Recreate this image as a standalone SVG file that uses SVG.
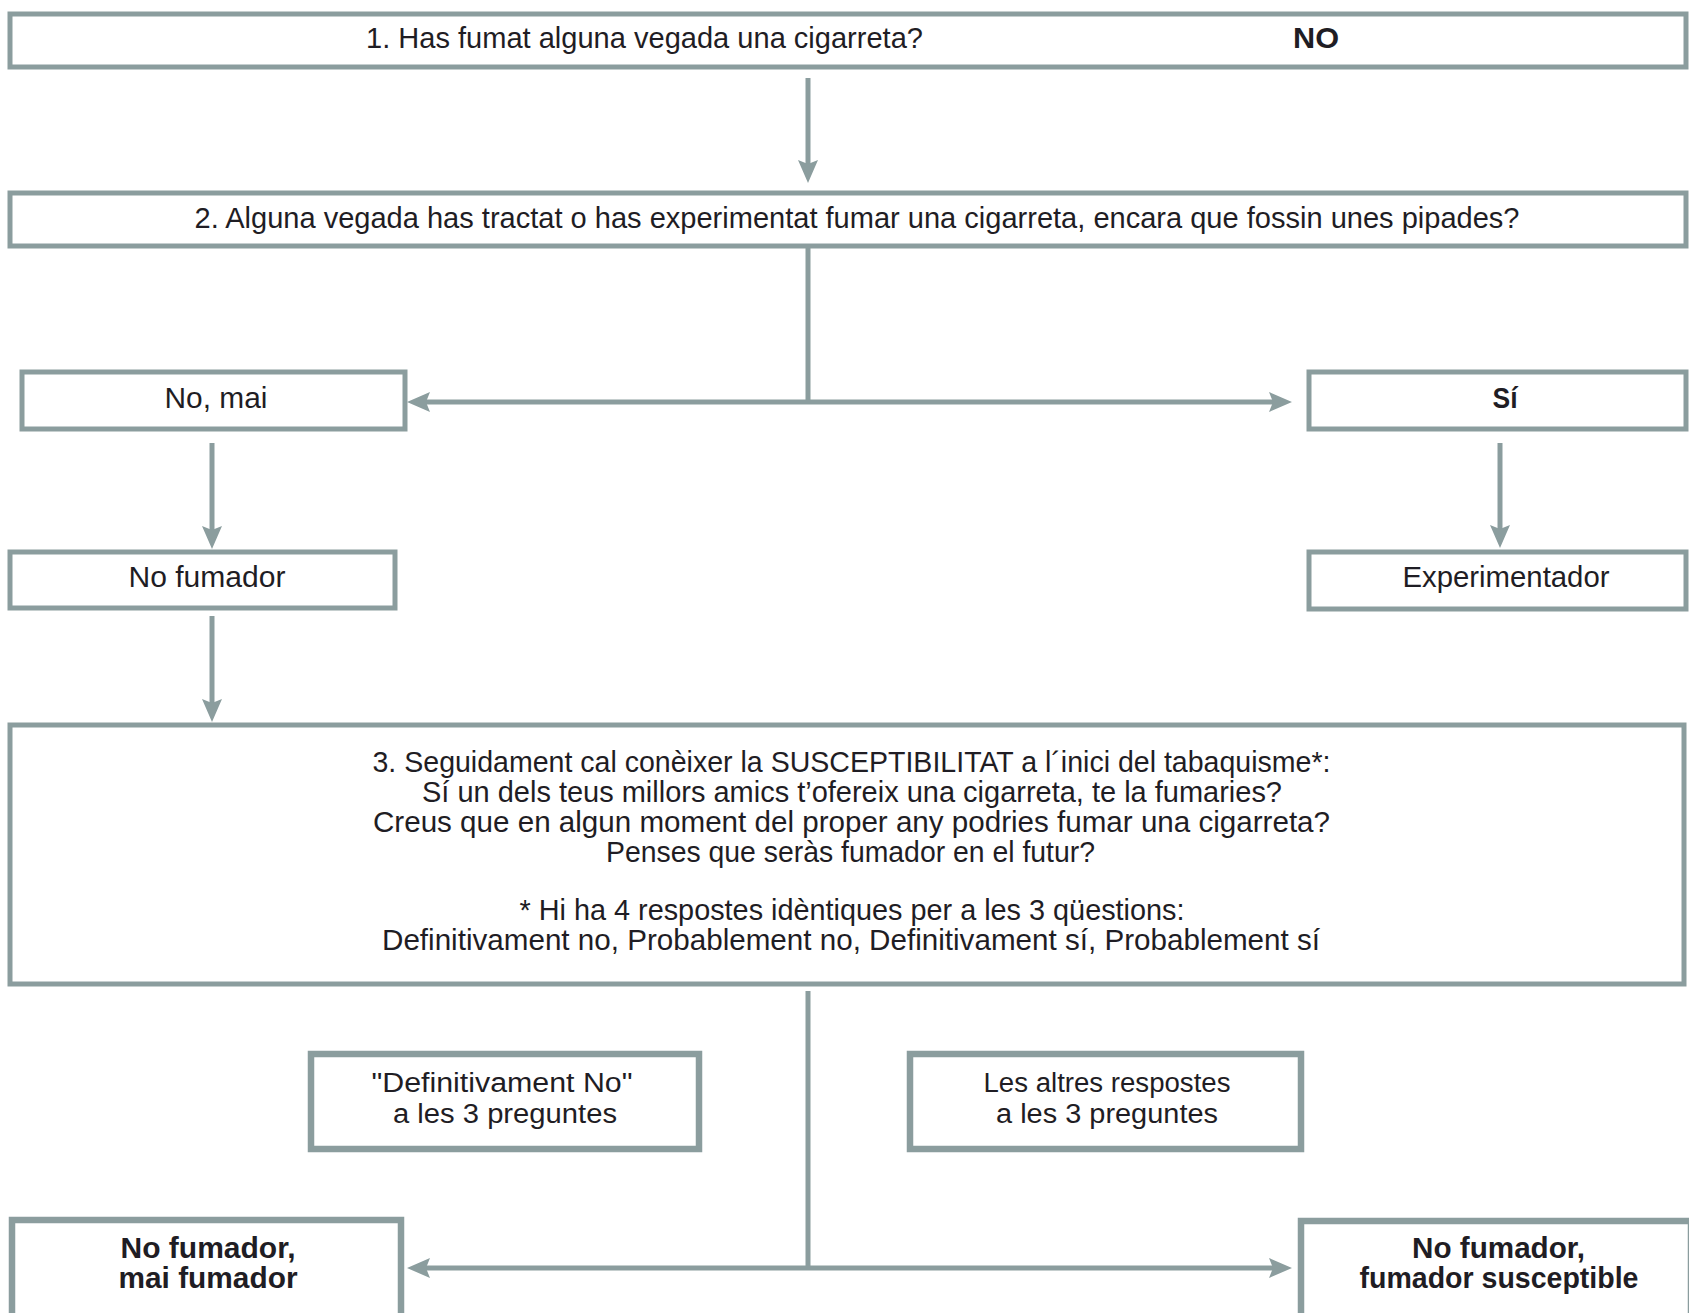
<svg xmlns="http://www.w3.org/2000/svg" width="1689" height="1313" viewBox="0 0 1689 1313">
<style>
.box{fill:#fff;stroke:#8b9d9e;stroke-width:5}
.boxb{fill:#fff;stroke:#8b9d9e;stroke-width:6.5}
.t{font-family:"Liberation Sans",Arial,sans-serif;font-size:30px;fill:#1f1d24;text-anchor:middle}
.s{font-size:27px}
.b{font-weight:bold}
.ln{fill:none;stroke:#8b9d9e;stroke-width:5}
</style>
<defs>
<marker id="ah" markerUnits="userSpaceOnUse" markerWidth="26" markerHeight="22" refX="5" refY="10" orient="auto">
<path d="M0,0 L23,10 L0,20 L4,10 z" fill="#8b9d9e"/>
</marker>
</defs>
<rect width="1689" height="1313" fill="#fff"/>
<g id="connectors">
<line class="ln" x1="808" y1="78" x2="808" y2="165" marker-end="url(#ah)"/>
<line class="ln" x1="808" y1="248" x2="808" y2="402"/>
<line class="ln" x1="808" y1="402" x2="425" y2="402" marker-end="url(#ah)"/>
<line class="ln" x1="808" y1="402" x2="1274" y2="402" marker-end="url(#ah)"/>
<line class="ln" x1="212" y1="443" x2="212" y2="531" marker-end="url(#ah)"/>
<line class="ln" x1="1500" y1="443" x2="1500" y2="530" marker-end="url(#ah)"/>
<line class="ln" x1="212" y1="616" x2="212" y2="704" marker-end="url(#ah)"/>
<line class="ln" x1="808" y1="991" x2="808" y2="1268"/>
<line class="ln" x1="808" y1="1268" x2="425" y2="1268" marker-end="url(#ah)"/>
<line class="ln" x1="808" y1="1268" x2="1274" y2="1268" marker-end="url(#ah)"/>
</g>
<g id="q1">
<rect class="box" x="10" y="14" width="1676" height="53"/>
<text class="t" x="644.5" y="48" textLength="557" lengthAdjust="spacingAndGlyphs">1. Has fumat alguna vegada una cigarreta?</text>
<text class="t b" x="1316" y="48" textLength="46" lengthAdjust="spacingAndGlyphs">NO</text>
</g>
<g id="q2">
<rect class="box" x="10" y="193" width="1676" height="53"/>
<text class="t" x="857" y="228" textLength="1325" lengthAdjust="spacingAndGlyphs">2. Alguna vegada has tractat o has experimentat fumar una cigarreta, encara que fossin unes pipades?</text>
</g>
<g id="nomai">
<rect class="box" x="22" y="372" width="383" height="57"/>
<text class="t" x="216" y="408" textLength="103" lengthAdjust="spacingAndGlyphs">No, mai</text>
</g>
<g id="si">
<rect class="box" x="1309" y="372" width="377" height="57"/>
<text class="t b" x="1505" y="408" textLength="25" lengthAdjust="spacingAndGlyphs">Sí</text>
</g>
<g id="nofumador">
<rect class="box" x="10" y="552" width="385" height="56"/>
<text class="t" x="207" y="587" textLength="157" lengthAdjust="spacingAndGlyphs">No fumador</text>
</g>
<g id="experimentador">
<rect class="box" x="1309" y="552" width="377" height="57"/>
<text class="t" x="1506" y="587" textLength="207" lengthAdjust="spacingAndGlyphs">Experimentador</text>
</g>
<g id="q3">
<rect class="box" x="10" y="725" width="1674" height="259"/>
<text class="t" x="851.5" y="772" textLength="958" lengthAdjust="spacingAndGlyphs">3. Seguidament cal conèixer la SUSCEPTIBILITAT a l´inici del tabaquisme*:</text>
<text class="t" x="852" y="802" textLength="860" lengthAdjust="spacingAndGlyphs">Sí un dels teus millors amics t’ofereix una cigarreta, te la fumaries?</text>
<text class="t" x="851.5" y="832" textLength="957" lengthAdjust="spacingAndGlyphs">Creus que en algun moment del proper any podries fumar una cigarreta?</text>
<text class="t" x="850.5" y="862" textLength="489" lengthAdjust="spacingAndGlyphs">Penses que seràs fumador en el futur?</text>
<text class="t" x="852" y="920" textLength="665" lengthAdjust="spacingAndGlyphs">* Hi ha 4 respostes idèntiques per a les 3 qüestions:</text>
<text class="t" x="851" y="950" textLength="938" lengthAdjust="spacingAndGlyphs">Definitivament no, Probablement no, Definitivament sí, Probablement sí</text>
</g>
<g id="defno">
<rect class="boxb" x="311" y="1054" width="388" height="95"/>
<text class="t s" x="502" y="1092" textLength="261" lengthAdjust="spacingAndGlyphs">"Definitivament No"</text>
<text class="t s" x="505" y="1123" textLength="224" lengthAdjust="spacingAndGlyphs">a les 3 preguntes</text>
</g>
<g id="altres">
<rect class="boxb" x="910" y="1054" width="391" height="95"/>
<text class="t s" x="1107" y="1092" textLength="247" lengthAdjust="spacingAndGlyphs">Les altres respostes</text>
<text class="t s" x="1107" y="1123" textLength="222" lengthAdjust="spacingAndGlyphs">a les 3 preguntes</text>
</g>
<g id="maifumador">
<rect class="boxb" x="12" y="1220" width="389" height="97"/>
<text class="t b" x="208" y="1258" textLength="175" lengthAdjust="spacingAndGlyphs">No fumador,</text>
<text class="t b" x="208" y="1288" textLength="179" lengthAdjust="spacingAndGlyphs">mai fumador</text>
</g>
<g id="susceptible">
<rect class="boxb" x="1301" y="1221" width="390" height="96"/>
<text class="t b" x="1498.5" y="1258" textLength="173" lengthAdjust="spacingAndGlyphs">No fumador,</text>
<text class="t b" x="1499" y="1288" textLength="279" lengthAdjust="spacingAndGlyphs">fumador susceptible</text>
</g>
</svg>
